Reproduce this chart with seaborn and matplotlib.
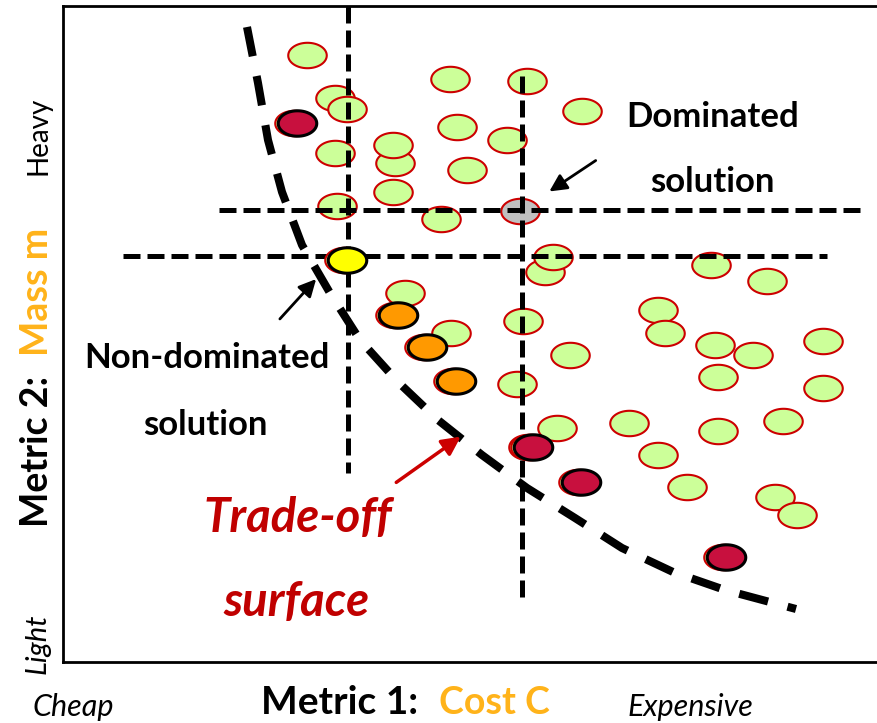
import numpy as np
import pandas as pd
import seaborn as sns
import matplotlib.pyplot as plt
from matplotlib.path import Path

# candidate designs (cost, mass) in arbitrary units
green_cost = [244, 272, 284, 272, 332, 330, 330, 274, 342, 387, 464, 519, 394, 444, 404, 378,
              482, 490, 648, 704, 595, 602, 652, 690, 760, 460, 388, 507, 655, 760, 566, 655,
              720, 595, 624, 712, 734, 454, 494, 465]
green_mass = [607, 564, 553, 509, 499, 517, 470, 456, 369, 583, 581, 551, 535, 522, 492, 443,
              390, 405, 397, 381, 352, 329, 317, 307, 321, 341, 329, 307, 285, 274, 239, 231,
              241, 207, 175, 165, 147, 278, 234, 215]
maroon_cost = [234, 470, 518, 663]
maroon_mass = [539, 215, 180, 105]
orange_cost = [335, 364, 393]
orange_mass = [347, 315, 281]
nondom_cost = [284]
nondom_mass = [402]
dom_cost = [457]
dom_mass = [451]

# trade-off (Pareto) front
front_cost = [184, 195, 205, 219, 239, 267, 297, 335, 375, 419, 464, 512, 559, 610, 662, 733]
front_mass = [635, 579, 522, 470, 417, 369, 322, 280, 242, 207, 174, 144, 114, 90, 72, 53]

sns.set_style('white')
plt.rcParams['font.family'] = ['Lato', 'DejaVu Sans']
plt.rcParams['text.color'] = 'black'

fig = plt.figure(figsize=(8.77, 7.23), dpi=100)
ax = fig.add_axes([63 / 877, 61 / 723, 814 / 877, 656 / 723])
ax.set_xlim(0, 814)
ax.set_ylim(0, 656)
ax.set_xticks([])
ax.set_yticks([])
for side in ['left', 'bottom', 'top']:
    ax.spines[side].set_color('black')
    ax.spines[side].set_linewidth(2)
ax.spines['right'].set_visible(False)

t = np.linspace(0, 2 * np.pi, 60)
ellipse = Path(np.column_stack([np.cos(t), 0.66 * np.sin(t)]), closed=True)
S = 770

sns.scatterplot(x=green_cost, y=green_mass, marker=ellipse, s=S, color='#CCFF99',
                edgecolor='#CC0000', linewidth=1.5, ax=ax, zorder=2)
sns.scatterplot(x=dom_cost, y=dom_mass, marker=ellipse, s=S, color='#C0C0C0',
                edgecolor='#CC0000', linewidth=1.5, ax=ax, zorder=2)

# dashed dominance lines
dash = dict(color='black', lw=3.6, dashes=(3.4, 1.4), zorder=3)
ax.plot([285, 285], [656, 189], **dash)
ax.plot([459, 459], [586, 65], **dash)
ax.plot([156, 799], [452, 452], **dash)
ax.plot([60, 764], [406, 406], **dash)

sns.lineplot(x=front_cost, y=front_mass, sort=False, color='black', lw=5.8,
             dashes=False, ax=ax, zorder=3).lines[-1].set_dashes((3.7, 2.5))

# highlighted designs (with a faint red halo like the originals)
for cx, cy, fc in [(maroon_cost, maroon_mass, '#C8103E'), (orange_cost, orange_mass, '#FF9900'),
                   (nondom_cost, nondom_mass, '#FFFF00')]:
    sns.scatterplot(x=np.array(cx) - 3, y=cy, marker=ellipse, s=S, color='#CCFF99',
                    edgecolor='#CC0000', linewidth=1.5, ax=ax, zorder=4)
    sns.scatterplot(x=cx, y=cy, marker=ellipse, s=S, color=fc,
                    edgecolor='black', linewidth=2.2, ax=ax, zorder=5)

arrow = dict(arrowstyle='-|>', color='black', lw=2, mutation_scale=26)
ax.annotate('', xy=(255, 385), xytext=(215, 341), arrowprops=arrow, zorder=6)
ax.annotate('', xy=(484, 469), xytext=(535, 503), arrowprops=arrow, zorder=6)
ax.annotate('', xy=(400, 227), xytext=(331, 178),
            arrowprops=dict(arrowstyle='-|>', color='#CC0000', lw=2.5, mutation_scale=28), zorder=6)

bold = dict(fontsize=25, fontweight='bold', ha='center', va='center')
ax.text(650, 545, 'Dominated', **bold)
ax.text(649, 480, 'solution', **bold)
ax.text(144, 304, 'Non-dominated', **bold)
ax.text(142, 237, 'solution', **bold)
red = dict(fontsize=34, fontweight='bold', fontstyle='italic', color='#C00000',
           ha='center', va='center')
ax.text(235, 144, 'Trade-off', **red)
ax.text(233, 60, 'surface', **red)


def fxy(px, py):
    return px / 877, 1 - py / 723


orange_txt = '#FFB31A'
fig.text(*fxy(39, 136), 'Heavy', fontsize=20, rotation=90, ha='center', va='center')
fig.text(*fxy(38, 644), 'Light', fontsize=21, fontstyle='italic', rotation=90,
         ha='center', va='center')
fig.text(*fxy(37, 451), 'Metric 2:', fontsize=27, fontweight='bold', rotation=90,
         ha='center', va='center')
fig.text(*fxy(37, 292), 'Mass m', fontsize=27, fontweight='bold', rotation=90,
         color=orange_txt, ha='center', va='center')
fig.text(*fxy(73, 707), 'Cheap', fontsize=22, fontstyle='italic', ha='center', va='center')
fig.text(*fxy(340, 703), 'Metric 1:', fontsize=28, fontweight='bold', ha='center', va='center')
fig.text(*fxy(494, 703), 'Cost C', fontsize=27, fontweight='bold', color=orange_txt,
         ha='center', va='center')
fig.text(*fxy(690, 707), 'Expensive', fontsize=22, fontstyle='italic', ha='center', va='center')

fig.savefig('out.png', dpi=100)
